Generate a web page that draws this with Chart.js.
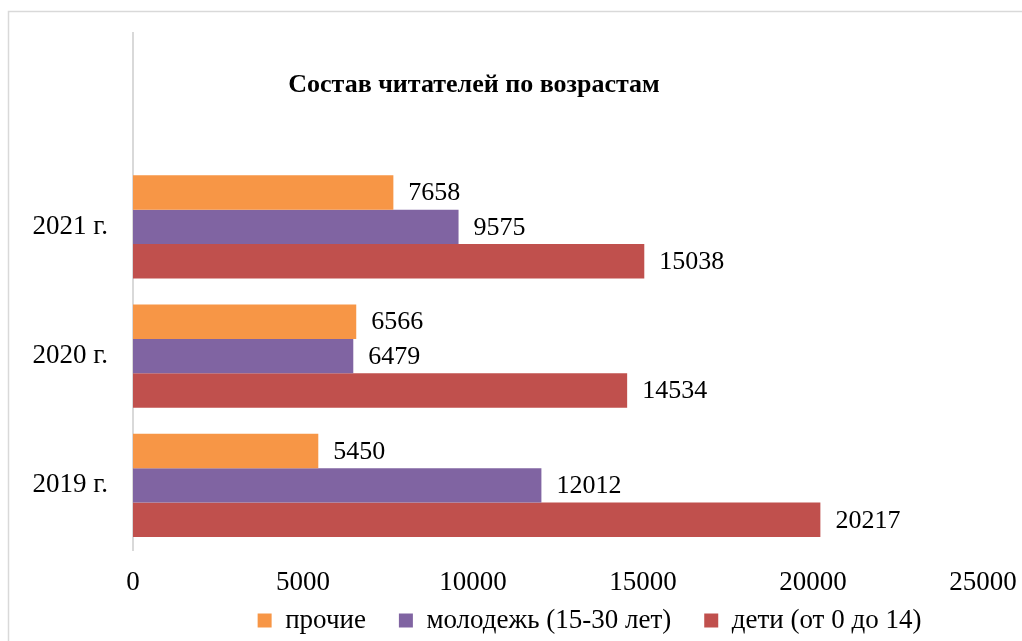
<!DOCTYPE html>
<html>
<head>
<meta charset="utf-8">
<script src="https://cdn.jsdelivr.net/npm/chart.js@4"></script>
<style>
  html, body { margin: 0; padding: 0; background: #fff; }
  #wrap { width: 1022px; height: 641px; }
</style>
</head>
<body>
<div id="wrap"><canvas id="myChart" width="1022" height="641"></canvas></div>
<script>
// top row is left empty, the title sits there like in the original
const years = ['', '2021 г.', '2020 г.', '2019 г.'];
const prochie = [null, 7658, 6566, 5450];
const molodezh = [null, 9575, 6479, 12012];
const deti = [null, 15038, 14534, 20217];
const xTicks = [0, 5000, 10000, 15000, 20000, 25000];

const titleText = 'Состав читателей по возрастам';
const serif = "'Liberation Serif', 'Times New Roman', serif";

// frame, title, legend shift
const framePlugin = {
  id: 'frame',
  afterLayout(chart) {
    // legend is centred a bit to the right in the original
    const lg = chart.legend;
    lg.left = 196;
    lg.right = 983;
    lg.top = 621 - 33 - 14;
    lg.bottom = chart.height;
  },
  beforeDraw(chart) {
    const c = chart.ctx;
    c.save();
    c.strokeStyle = '#d9d9d9';
    c.lineWidth = 1.5;
    c.strokeRect(8.5, 11.5, 1100, 700);
    c.restore();
  },
  afterDraw(chart) {
    const c = chart.ctx;
    c.save();
    c.font = 'bold 26px ' + serif;
    c.fillStyle = '#000';
    c.textAlign = 'center';
    c.textBaseline = 'middle';
    c.fillText(titleText, 474, 85);
    c.restore();
  }
};

// values to the right of each bar
const valuesPlugin = {
  id: 'values',
  afterDatasetsDraw(chart) {
    const c = chart.ctx;
    c.save();
    c.font = '26px ' + serif;
    c.fillStyle = '#000';
    c.textAlign = 'left';
    c.textBaseline = 'middle';
    chart.data.datasets.forEach((ds, i) => {
      const meta = chart.getDatasetMeta(i);
      meta.data.forEach((bar, j) => {
        const v = ds.data[j];
        if (v == null) return;
        c.fillText(String(v), bar.x + 15, bar.y + 1);
      });
    });
    c.restore();
  }
};

const ctx = document.getElementById('myChart').getContext('2d');

const myChart = new Chart(ctx, {
  type: 'bar',
  data: {
    labels: years,
    datasets: [
      { label: 'прочие', data: prochie, backgroundColor: '#F79646' },
      { label: 'молодежь (15-30 лет)', data: molodezh, backgroundColor: '#8064A2' },
      { label: 'дети (от 0 до 14)', data: deti, backgroundColor: '#C0504D' }
    ]
  },
  options: {
    indexAxis: 'y',
    responsive: false,
    animation: false,
    layout: { padding: { left: 8, top: 33, right: 39, bottom: 0 } },
    datasets: {
      bar: { categoryPercentage: 0.8, barPercentage: 1.0 }
    },
    scales: {
      x: {
        min: 0,
        max: 25000,
        afterBuildTicks(scale) {
          scale.ticks = xTicks.map(v => ({ value: v }));
        },
        afterFit(scale) {
          scale.height = 47;
          scale.paddingLeft = 0;
          scale.paddingRight = 0;
        },
        grid: { display: false, drawTicks: false },
        border: { display: false },
        ticks: {
          padding: 17,
          color: '#000',
          font: { family: serif, size: 27 },
          maxRotation: 0,
          callback: v => String(v)
        }
      },
      y: {
        afterFit(scale) {
          scale.width = 125;
          scale.paddingTop = 0;
          scale.paddingBottom = 0;
        },
        grid: { display: false, drawTicks: false },
        border: { display: true, color: '#d9d9d9', width: 2 },
        ticks: {
          padding: 25,
          color: '#000',
          font: { family: serif, size: 27 }
        }
      }
    },
    plugins: {
      title: { display: false },
      tooltip: { enabled: false },
      legend: {
        position: 'bottom',
        maxHeight: 44,
        labels: {
          boxWidth: 14,
          boxHeight: 14,
          padding: 33,
          color: '#000',
          font: { family: serif, size: 27 }
        }
      }
    }
  },
  plugins: [framePlugin, valuesPlugin]
});
</script>
</body>
</html>
